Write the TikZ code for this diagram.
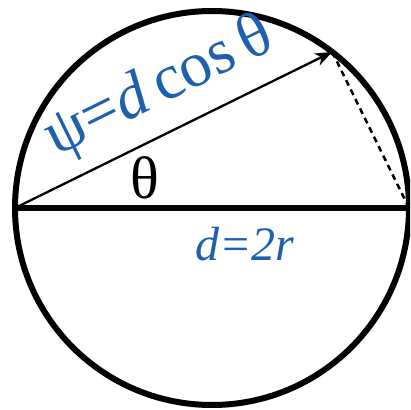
\documentclass[tikz,border=0pt]{standalone}
\usepackage{fontspec}
\setmainfont{Liberation Serif}
\usepackage{xcolor}
\usetikzlibrary{arrows.meta}
\usetikzlibrary{calc}
\definecolor{azul}{RGB}{30,96,176}
\tikzset{
  borda/.style={line width=6pt},
  seta/.style={-{Stealth[length=17pt,width=13pt,inset=5pt]}, line width=2.3pt},
  tracejado/.style={line width=2.5pt, dash pattern=on 6pt off 4.5pt},
  rotulo/.style={inner sep=0pt, font=\fontsize{#1}{#1}\selectfont},
  rotulo/.default=64pt,
}
\begin{document}
\begin{tikzpicture}[x=1pt, y=1pt]
  \useasboundingbox (0,0) rectangle (410,410);
  \clip (0,0) rectangle (410,410);
  \coordinate (O) at (212,202);
  \coordinate (A) at (15,202);
  \coordinate (B) at (409,202);
  \coordinate (P) at ($(O)+(52.4:197)$);
  \draw[borda] (O) circle (197);
  \draw[borda] (A) -- (B);
  \draw[seta] (A) -- (P);
  \draw[tracejado] (P) -- (B);
  \node[rotulo, text=azul, rotate=26.2] (psi) at (160,322) {ψ=\textit{d}\,cos\,θ};
  \node[rotulo=60pt] (teta) at (145,232) {θ};
  \node[rotulo=48pt, text=azul] (diam) at (245,166) {\textit{d=2r}};
\end{tikzpicture}
\end{document}
